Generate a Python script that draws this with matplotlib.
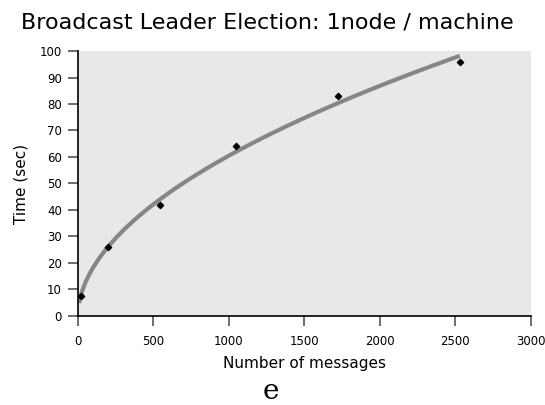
import numpy as np
import matplotlib
matplotlib.use("Agg")
import matplotlib.pyplot as plt

messages = [18, 200, 545, 1045, 1720, 2530]
times = [7.5, 26, 42, 64, 83, 96]
x_ticks = [0, 500, 1000, 1500, 2000, 2500, 3000]
y_ticks = [0, 10, 20, 30, 40, 50, 60, 70, 80, 90, 100]

# power-law trend line fitted to the data
b, loga = np.polyfit(np.log(messages), np.log(times), 1)
xf = np.linspace(messages[0] - 10, messages[-1], 300)
yf = np.exp(loga) * xf ** b

fig = plt.figure(figsize=(5.45, 4.05), dpi=100)
ax = fig.add_axes([0.143, 0.22, 0.831, 0.654])
ax.set_facecolor('#e8e8e8')
ax.plot(xf, yf, color='#868686', lw=3, solid_capstyle='butt', zorder=2)
ax.scatter(messages, times, marker='D', s=10, color='black', zorder=3)
ax.set_xlim(0, 3000)
ax.set_ylim(0, 100)
ax.set_xticks(x_ticks)
ax.set_yticks(y_ticks)
for s in ['top', 'right']:
    ax.spines[s].set_visible(False)
for s in ['left', 'bottom']:
    ax.spines[s].set_linewidth(1.2)
ax.tick_params(direction='out', length=7.5, width=1.2, color='#555555', labelsize=8.5, pad=4)
ax.tick_params(axis='x', pad=6)
ax.set_xlabel('Number of messages', fontsize=11, labelpad=6)
ax.set_ylabel('Time (sec)', fontsize=11, labelpad=8)
fig.text(0.49, 0.945, 'Broadcast Leader Election: 1node / machine', ha='center', va='center', fontsize=16)
fig.text(0.497, 0.033, 'e', ha='center', va='center', fontsize=20, family='DejaVu Serif')
fig.savefig('out.png', dpi=100)
